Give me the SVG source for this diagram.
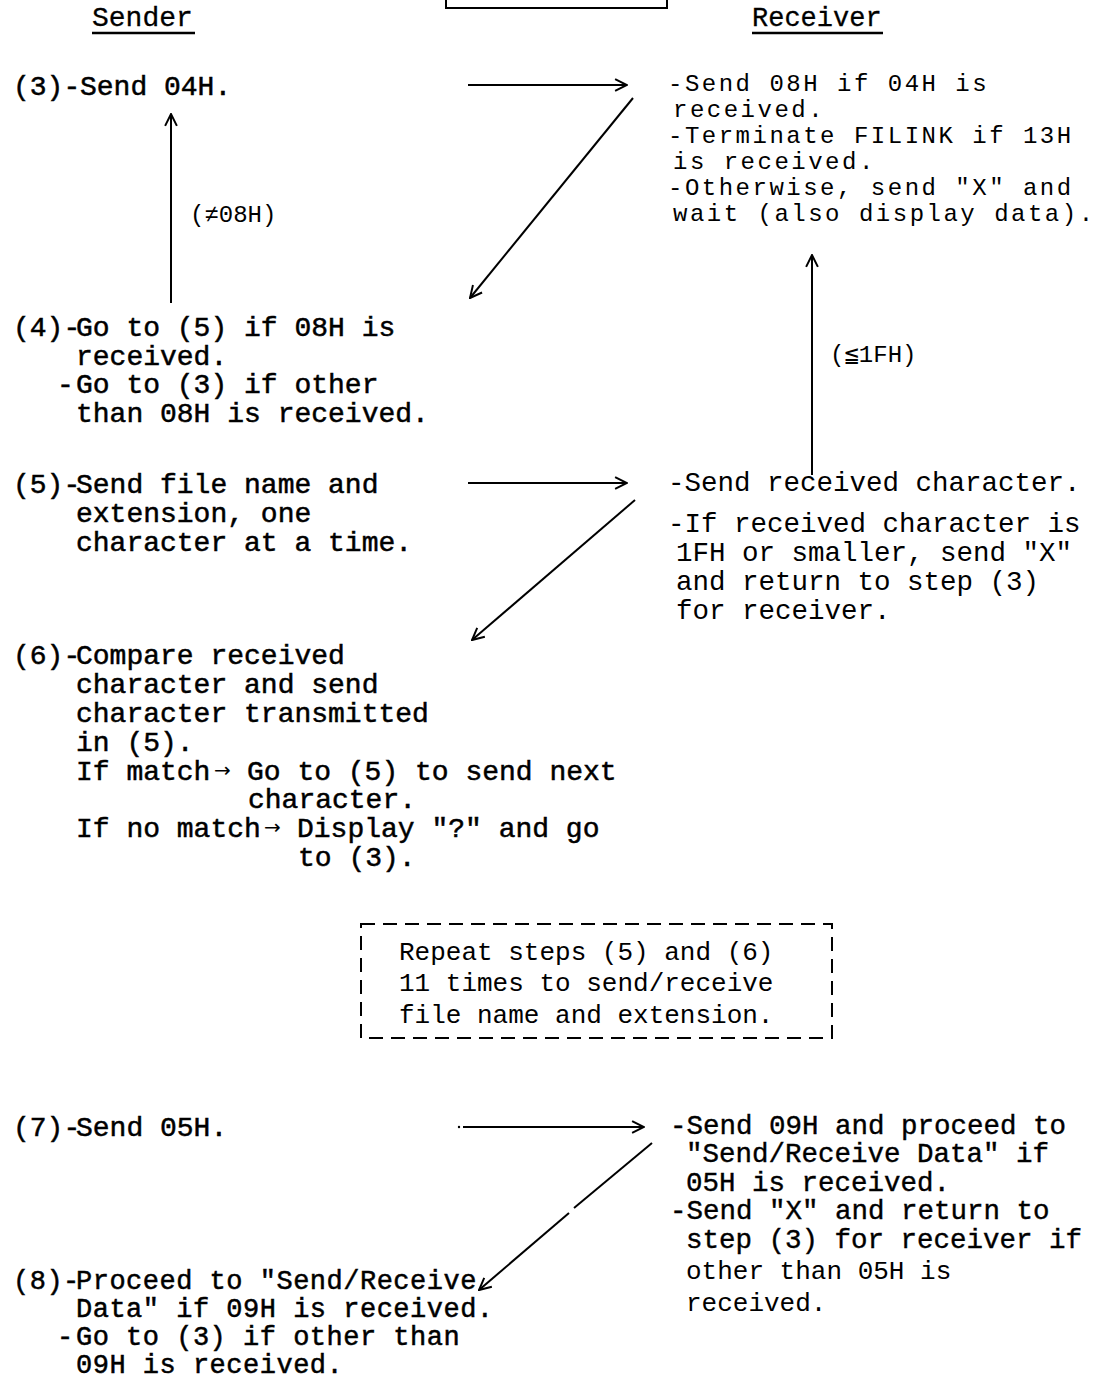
<svg xmlns="http://www.w3.org/2000/svg" width="1105" height="1382" viewBox="0 0 1105 1382">
<style>
  text { font-family: "Liberation Mono", "DejaVu Sans Mono", monospace; fill: #000; }
  .s { font-size: 28px; stroke: #000; stroke-width: 0.5px; }
  .s8 { font-size: 27px; letter-spacing: 0.5px; stroke: #000; stroke-width: 0.5px; }
  .r { font-size: 27.5px; }
  .r1 { font-size: 24px; letter-spacing: 2.5px; }
  .rb { font-size: 27.5px; stroke: #000; stroke-width: 0.4px; }
  .lt { font-size: 26px; }
  .cond { font-size: 24px; }
  .hd { font-size: 28px; stroke: #000; stroke-width: 0.3px; }
  .ar { font-family: "DejaVu Sans", sans-serif; font-size: 20px; stroke-width: 0; }
  .ln { stroke: #000; stroke-width: 2; fill: none; }
  .ul { stroke: #000; stroke-width: 2.5; fill: none; }
  .dash { stroke: #000; stroke-width: 2; fill: none; stroke-dasharray: 14 8; }
</style>
<defs>
  <marker id="ah" viewBox="0 0 10 10" refX="9.5" refY="5" markerWidth="14" markerHeight="14" markerUnits="userSpaceOnUse" orient="auto">
    <path d="M1,0.8 L9.5,5 L1,9.2" fill="none" stroke="#000" stroke-width="1.4"/>
  </marker>
</defs>

<rect width="1105" height="1382" fill="#fff"/>

<g id="header">
  <path class="ln" d="M446,0 V8 H667 V0"/>
  <text class="hd" x="92" y="26">Sender</text>
  <line class="ul" x1="92" y1="33" x2="195" y2="33"/>
  <text class="hd" x="752" y="26" style="font-size:27px">Receiver</text>
  <line class="ul" x1="752" y1="33" x2="883" y2="33"/>
</g>

<g id="s3">
  <text class="s" y="95"><tspan x="13">(3)-</tspan><tspan x="80">Send 04H.</tspan></text>
</g>

<g id="r3">
  <text class="r1" x="668" y="91">-Send 08H if 04H is</text>
  <text class="r1" x="673" y="117">received.</text>
  <text class="r1" x="668" y="143">-Terminate FILINK if 13H</text>
  <text class="r1" x="673" y="169">is received.</text>
  <text class="r1" x="668" y="195">-Otherwise, send "X" and</text>
  <text class="r1" x="673" y="221">wait (also display data).</text>
</g>

<g id="s4">
  <text class="s" y="336"><tspan x="13">(4)-</tspan><tspan x="76">Go to (5) if 08H is</tspan></text>
  <text class="s" x="76" y="365">received.</text>
  <text class="s" y="393"><tspan x="57">-</tspan><tspan x="76">Go to (3) if other</tspan></text>
  <text class="s" x="76" y="422">than 08H is received.</text>
</g>

<g id="s5">
  <text class="s" y="493"><tspan x="13">(5)-</tspan><tspan x="76">Send file name and</tspan></text>
  <text class="s" x="76" y="522">extension, one</text>
  <text class="s" x="76" y="551">character at a time.</text>
</g>

<g id="r5">
  <text class="r" x="668" y="491">-Send received character.</text>
  <text class="r" x="668" y="532">-If received character is</text>
  <text class="r" x="676" y="561">1FH or smaller, send "X"</text>
  <text class="r" x="676" y="590">and return to step (3)</text>
  <text class="r" x="676" y="619">for receiver.</text>
</g>

<g id="s6">
  <text class="s" y="664"><tspan x="13">(6)-</tspan><tspan x="76">Compare received</tspan></text>
  <text class="s" x="76" y="693">character and send</text>
  <text class="s" x="76" y="722">character transmitted</text>
  <text class="s" x="76" y="751">in (5).</text>
  <text class="s" y="780"><tspan x="76">If match</tspan><tspan class="ar" x="214" dy="-3">→</tspan><tspan x="247" dy="3">Go to (5) to send next</tspan></text>
  <text class="s" x="248" y="808">character.</text>
  <text class="s" y="837"><tspan x="76">If no match</tspan><tspan class="ar" x="264" dy="-3">→</tspan><tspan x="297" dy="3">Display "?" and go</tspan></text>
  <text class="s" x="298" y="866">to (3).</text>
</g>

<g id="repeat">
  <rect class="dash" x="361" y="924" width="471" height="114"/>
  <text class="lt" x="399" y="960">Repeat steps (5) and (6)</text>
  <text class="lt" x="399" y="991">11 times to send/receive</text>
  <text class="lt" x="399" y="1023">file name and extension.</text>
</g>

<g id="s7">
  <text class="s" y="1136"><tspan x="13">(7)-</tspan><tspan x="76">Send 05H.</tspan></text>
</g>

<g id="r7">
  <text class="rb" x="670" y="1134">-Send 09H and proceed to</text>
  <text class="rb" x="686" y="1162">"Send/Receive Data" if</text>
  <text class="rb" x="686" y="1191">05H is received.</text>
  <text class="rb" x="670" y="1219">-Send "X" and return to</text>
  <text class="rb" x="686" y="1248">step (3) for receiver if</text>
  <text class="lt" x="686" y="1279">other than 05H is</text>
  <text class="lt" x="686" y="1311">received.</text>
</g>

<g id="s8">
  <text class="s8" y="1289"><tspan x="13">(8)-</tspan><tspan x="76">Proceed to "Send/Receive</tspan></text>
  <text class="s8" x="76" y="1317">Data" if 09H is received.</text>
  <text class="s8" y="1345"><tspan x="57">-</tspan><tspan x="76">Go to (3) if other than</tspan></text>
  <text class="s8" x="76" y="1373">09H is received.</text>
</g>

<g id="labels">
  <text class="cond" x="190" y="222">(≠08H)</text>
  <text class="cond" x="830" y="362">(≦1FH)</text>
</g>

<g id="connectors">
  <line class="ln" x1="171" y1="303" x2="171" y2="114" marker-end="url(#ah)"/>
  <line class="ln" x1="468" y1="85" x2="627" y2="85" marker-end="url(#ah)"/>
  <line class="ln" x1="633" y1="98" x2="470" y2="298" marker-end="url(#ah)"/>
  <line class="ln" x1="812" y1="475" x2="812" y2="255" marker-end="url(#ah)"/>
  <line class="ln" x1="468" y1="483" x2="627" y2="483" marker-end="url(#ah)"/>
  <line class="ln" x1="635" y1="500" x2="472" y2="640" marker-end="url(#ah)"/>
  <line class="ln" x1="463" y1="1127" x2="644" y2="1127" marker-end="url(#ah)"/>
  <circle cx="459" cy="1127" r="1.2" fill="#000"/>
  <line class="ln" x1="652" y1="1143" x2="574" y2="1208"/>
  <line class="ln" x1="569" y1="1213" x2="479" y2="1290" marker-end="url(#ah)"/>
</g>
</svg>
